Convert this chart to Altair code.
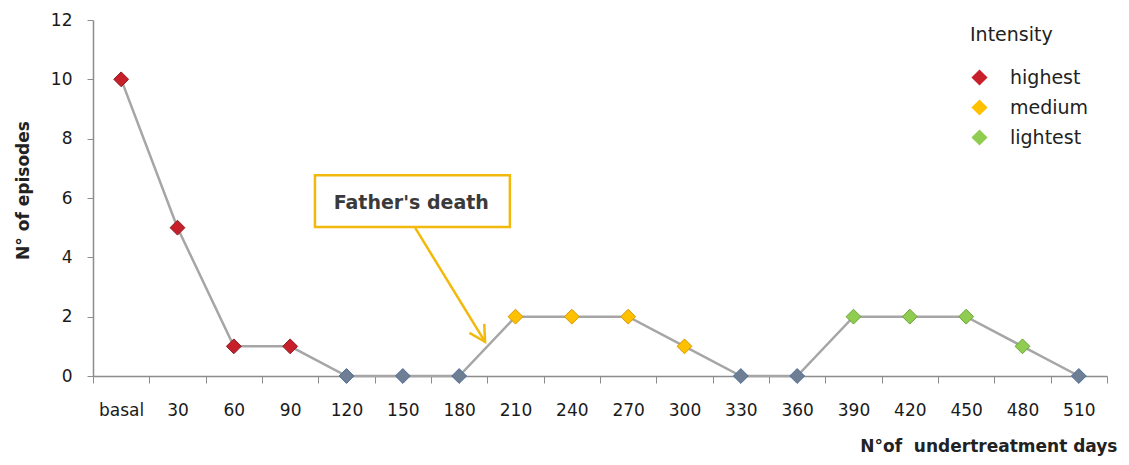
import altair as alt
import pandas as pd

days = ["basal", "30", "60", "90", "120", "150", "180", "210", "240", "270",
        "300", "330", "360", "390", "420", "450", "480", "510"]
episodes = [10, 5, 1, 1, 0, 0, 0, 2, 2, 2, 1, 0, 0, 2, 2, 2, 1, 0]
intensity = ["highest", "highest", "highest", "highest", "none", "none", "none",
             "medium", "medium", "medium", "medium", "none", "none",
             "lightest", "lightest", "lightest", "lightest", "none"]

int_domain = ["highest", "medium", "lightest", "none"]
int_fill = ["#c8202a", "#ffc000", "#8fcc50", "#6e7f93"]
int_stroke = ["#8a1a20", "#d49a00", "#6aa53a", "#4f6d9c"]

# annotation (in category-index units / episode units)
box_x = [3.44, 6.90]
box_y = [5.02, 6.77]
label_pos = [5.15, 5.83]
arrow_x = [5.22, 6.46]
arrow_y = [4.99, 1.15]
arrow_angle = 148.5
annot_text = "Father's death"

df = pd.DataFrame({"day": days, "episodes": episodes, "intensity": intensity})

y_axis = alt.Axis(title="N° of episodes", values=[0, 2, 4, 6, 8, 10, 12],
                  domainColor="#8c8c8c", tickColor="#8c8c8c", tickSize=6,
                  labelPadding=15, labelFontSize=17, labelFont="DejaVu Sans",
                  labelColor="#1a1a1a", titleFont="DejaVu Sans", titleFontWeight="bold",
                  titleFontSize=17, titleColor="#222", titleX=-70, titleY=170,
                  titleBaseline="middle", grid=False, domainWidth=1.5)
yq = alt.Scale(domain=[0, 12], nice=False)

x_enc = alt.X("day:N", sort=days,
              scale=alt.Scale(type="band", paddingInner=0, paddingOuter=0),
              axis=alt.Axis(title="N°of\u00a0\u00a0undertreatment days", labelAngle=0,
                            tickBand="extent", domainColor="#8c8c8c", tickColor="#8c8c8c",
                            tickSize=7, labelPadding=19, labelFontSize=17,
                            labelFont="DejaVu Sans", labelColor="#1a1a1a",
                            titleFont="DejaVu Sans", titleFontWeight="bold", titleFontSize=17,
                            titleColor="#222", titleAlign="right", titleX=1024, titleY=70,
                            titleBaseline="middle", grid=False, domainWidth=1.5))
y_enc = alt.Y("episodes:Q", scale=yq, axis=y_axis)

base = alt.Chart(df)
line = base.mark_line(color="#a6a6a6", strokeWidth=2.5).encode(x=x_enc, y=y_enc)
points = base.mark_point(shape="diamond", filled=True, size=220, opacity=1, strokeWidth=1).encode(
    x=alt.X("day:N", sort=days, scale=alt.Scale(type="band", paddingInner=0, paddingOuter=0), axis=None),
    y=y_enc,
    color=alt.Color("intensity:N", scale=alt.Scale(domain=int_domain, range=int_fill),
                    legend=alt.Legend(title="Intensity", values=["highest", "medium", "lightest"],
                                      orient="none", legendX=877, legendY=6, padding=0,
                                      symbolType="diamond", symbolSize=260, symbolStrokeWidth=0,
                                      titleFont="DejaVu Sans", titleFontSize=19,
                                      titleFontWeight="normal", titleColor="#222",
                                      titlePadding=23, labelFont="DejaVu Sans", labelFontSize=19,
                                      labelColor="#222", labelOffset=21, rowPadding=10)),
    stroke=alt.Stroke("intensity:N", scale=alt.Scale(domain=int_domain, range=int_stroke), legend=None),
)

xq = alt.Scale(domain=[-0.5, 17.5], nice=False, zero=False)

box = alt.Chart(pd.DataFrame({"x": [box_x[0]], "x2": [box_x[1]], "episodes": [box_y[0]], "y2": [box_y[1]]})).mark_rect(
    fill="white", stroke="#f2b90c", strokeWidth=2.5).encode(
    x=alt.X("x:Q", scale=xq, axis=None), x2="x2:Q",
    y=y_enc, y2="y2:Q")
label = alt.Chart(pd.DataFrame({"x": [label_pos[0]], "episodes": [label_pos[1]], "t": [annot_text]})).mark_text(
    font="DejaVu Sans", fontSize=19, color="#3a3a3a", fontWeight="bold", baseline="middle", align="center").encode(
    x=alt.X("x:Q", scale=xq, axis=None), y=y_enc, text="t:N")
arrow = alt.Chart(pd.DataFrame({"x": arrow_x, "episodes": arrow_y})).mark_line(
    color="#f2b90c", strokeWidth=2.5).encode(
    x=alt.X("x:Q", scale=xq, axis=None), y=y_enc)
head = alt.Chart(pd.DataFrame({"x": [arrow_x[1]], "episodes": [arrow_y[1]]})).mark_point(
    shape="M-0.55,1 L0,0 L0.55,1", filled=False, stroke="#f2b90c", strokeWidth=2.5,
    size=1000, angle=arrow_angle, opacity=1).encode(
    x=alt.X("x:Q", scale=xq, axis=None), y=y_enc)

chart = alt.layer(line, points, box, label, arrow, head).resolve_scale(
    x="independent", color="independent", stroke="independent"
).properties(
    width=1014, height=356,
    autosize=alt.AutoSizeParams(type="none"),
    padding={"left": 85, "top": 12, "right": 14, "bottom": 80},
).configure_view(stroke=None)

chart.save("out.html", embed_options={"renderer": "svg", "actions": False})
